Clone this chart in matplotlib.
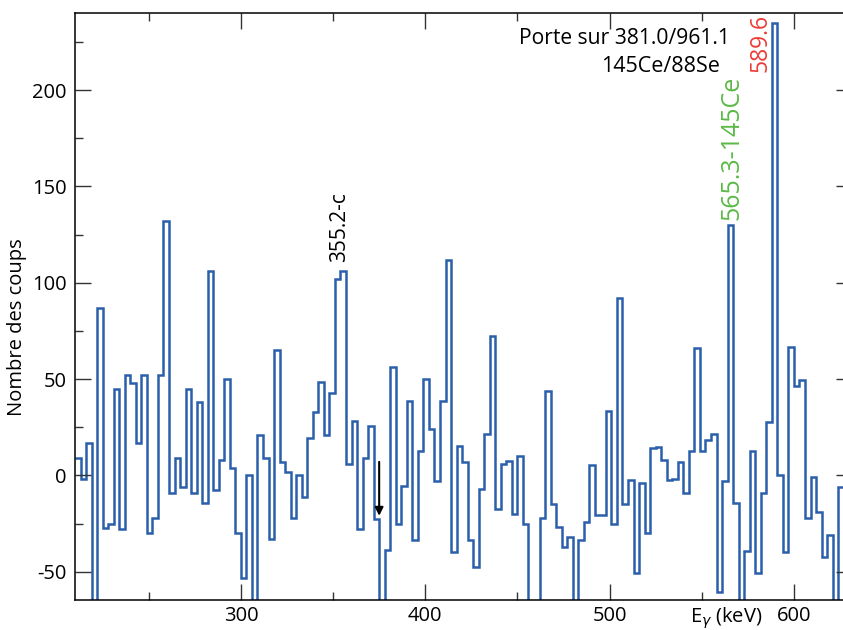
#!/usr/bin/env python3

import numpy as np
import matplotlib
matplotlib.use("Agg")
import matplotlib.pyplot as plt
from matplotlib.ticker import MultipleLocator
from matplotlib.transforms import blended_transform_factory

# spectrum: 3 keV bins starting at 210 keV (values below -65 are off scale)
bin_start = 210
bin_width = 3
counts = [
    9, -2, 17, -80, 87, -27.5, -25, 45, -28, 52,
    48, 17, 52, -30, -22, 52, 132, -9, 9, -6,
    45, -9, 38, -14.5, 106, -7.5, 8, 50, 4, -30,
    -53.5, 0, -80, 21, 9, -33, 65, 7, 2, -22,
    0, -11, 19.5, 33, 48.5, 21, 42.6, 102, 106, 6,
    28, -28, 9, 25.6, -22.7, -80, -39, 56, -25, -5.5,
    38.6, -33.6, 12.8, 50, 24, -3, 38.6, 112, -40, 15,
    6.7, -33.6, -47.4, -7.3, 21.3, 72.3, -17.5, 5.7, 7.6, -20,
    10.2, -25, -80, -75, -22.3, 44, -15, -27, -37, -32,
    -80, -33.6, -24.4, 5.4, -20.4, -20.4, 33.4, -25, 92.2, -15,
    -2.4, -50.5, -3.8, -30, 14, 14.5, 8, -2.2, -2, 6.7,
    -9.4, 12.7, 66, 12.6, 18.2, 21.5, -60.6, -3, 130, -14.4,
    -80, -39.3, 12.5, -50.8, -9, 27.7, 235, 0, -39.8, 66.4,
    46.3, 49.4, -22, -1, -19, -42.4, -30.8, -80, -6,
]

# peak labels
peak_355 = 355.2
peak_565 = 565.3
peak_589 = 589.6
gate_arrow = 375

blue = "#2a5fab"
green = "#5cb946"
red = "#ec3b36"

plt.rcParams["font.family"] = ["Open Sans", "DejaVu Sans"]
plt.rcParams["axes.unicode_minus"] = False

fig = plt.figure(figsize=(8.43, 6.30), dpi=100)
# right spine sits just outside the picture, as in the original
ax = fig.add_axes([75 / 843, 30 / 630, (852 - 75) / 843, (600 - 13) / 630])

edges = bin_start + bin_width * np.arange(len(counts) + 1)
ax.stairs(counts, edges, baseline=None, color=blue, lw=1.8)

ax.set_xlim(210, 631.5)
ax.set_ylim(-64.7, 240)

ax.xaxis.set_major_locator(MultipleLocator(100))
ax.xaxis.set_minor_locator(MultipleLocator(50))
ax.yaxis.set_major_locator(MultipleLocator(50))
ax.yaxis.set_minor_locator(MultipleLocator(25))
ax.tick_params(which="both", direction="in", top=True, right=True,
               color="#333333", width=1.0, labelsize=14.5)
ax.tick_params(which="major", length=11.5)
ax.tick_params(which="minor", length=5.8)
ax.tick_params(axis="x", pad=4)
ax.tick_params(axis="y", pad=6)
for sp in ax.spines.values():
    sp.set_linewidth(1.1)

ax.set_ylabel("Nombre des coups", fontsize=14.5)
ax.yaxis.set_label_coords(-0.062, 0.465)

trans = blended_transform_factory(ax.transData, ax.transAxes)
ax.text(543.5, -0.031, r"E$_\gamma$ (keV)", transform=trans, fontsize=14.5,
        ha="left", va="center")

# annotations
ax.text(353.7, 110.5, "%.1f-c" % peak_355, rotation=90, ha="center",
        va="bottom", fontsize=15)
ax.text(566.4, 132.5, "%.1f-145Ce" % peak_565, rotation=90, ha="center",
        va="bottom", fontsize=18, color=green)
ax.text(581.6, 209.3, "%.1f" % peak_589, rotation=90, ha="center",
        va="bottom", fontsize=16.5, color=red)
ax.text(565.3, 224, "Porte sur 381.0/961.1", ha="right", va="baseline",
        fontsize=15.2)
ax.text(559.9, 209.3, "145Ce/88Se", ha="right", va="baseline", fontsize=15.5)

ax.annotate("", xy=(gate_arrow, -21), xytext=(gate_arrow, 7),
            arrowprops=dict(arrowstyle="-|>", color="black", lw=1.5,
                            mutation_scale=12, shrinkA=0, shrinkB=0))

fig.savefig("out.png", dpi=100)
